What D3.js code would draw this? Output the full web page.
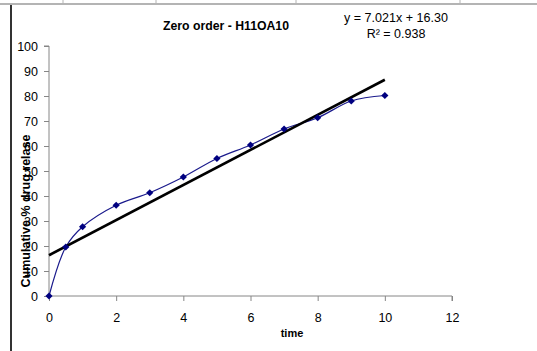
<!DOCTYPE html>
<html>
<head>
<meta charset="utf-8">
<script src="https://cdn.jsdelivr.net/npm/d3@7"></script>
<style>
  html, body { margin: 0; padding: 0; background: #fff; }
  svg { display: block; font-family: "Liberation Sans", Arial, sans-serif; }
</style>
</head>
<body>
<div id="chart"></div>
<script>
// Zero order release plot — time vs cumulative % drug release

const timePoints = [0, 0.5, 1, 2, 3, 4, 5, 6, 7, 8, 9, 10];
const releaseValues = [0, 19.6, 27.7, 36.3, 41.3, 47.6, 55, 60.4, 66.8, 71.3, 78, 80.2];
const xTicks = [0, 2, 4, 6, 8, 10, 12];
const yTicks = [0, 10, 20, 30, 40, 50, 60, 70, 80, 90, 100];
const trendSlope = 7.021;
const trendIntercept = 16.30;
const trendRange = [0, 10];
const sheetColumns = [63, 156, 296, 460]; // spreadsheet column separators

const width = 537, height = 351;
const svg = d3.select("#chart").append("svg")
  .attr("width", width)
  .attr("height", height);

// ── spreadsheet frame behind the chart ──
svg.append("line")
  .attr("x1", 0).attr("x2", width).attr("y1", 4).attr("y2", 4)
  .attr("stroke", "#b4b4b4").attr("stroke-width", 2);
svg.selectAll("line.col")
  .data(sheetColumns)
  .join("line")
  .attr("class", "col")
  .attr("x1", d => d).attr("x2", d => d)
  .attr("y1", 0).attr("y2", 3)
  .attr("stroke", "#b4b4b4").attr("stroke-width", 1);
svg.append("line")
  .attr("x1", 11).attr("x2", 11).attr("y1", 5).attr("y2", height)
  .attr("stroke", "#333").attr("stroke-width", 2);

// ── scales ──
const x = d3.scaleLinear().domain([0, 12]).range([49, 452]);
const y = d3.scaleLinear().domain([0, 100]).range([296, 46]);

const axisColor = "#868686";

const yAxis = svg.append("g")
  .attr("transform", `translate(${x(0)},0)`)
  .call(d3.axisLeft(y).tickValues(yTicks).tickSize(5).tickPadding(6));
const xAxis = svg.append("g")
  .attr("transform", `translate(0,${y(0)})`)
  .call(d3.axisBottom(x).tickValues(xTicks).tickSize(5).tickPadding(12));

[xAxis, yAxis].forEach(ax => {
  ax.select(".domain").attr("stroke", axisColor);
  ax.selectAll(".tick line").attr("stroke", axisColor);
  ax.selectAll(".tick text")
    .attr("fill", "#000")
    .style("font-size", "12.5px")
    .style("font-family", "'Liberation Sans', Arial, sans-serif");
});
// Excel draws the x axis only up to 0 on the left; y ticks outward
xAxis.select(".domain").attr("d", `M${x(0)},0H${x(12)}V5`);
yAxis.select(".domain").attr("d", `M-5,${y(100)}H0V${y(0)}`);

// ── data series (smoothed) ──
const pts = timePoints.map((t, i) => [t, releaseValues[i]]);

svg.append("path")
  .datum(pts)
  .attr("fill", "none")
  .attr("stroke", "#1a1a8c")
  .attr("stroke-width", 1.2)
  .attr("d", d3.line()
    .x(d => x(d[0]))
    .y(d => y(d[1]))
    .curve(d3.curveCatmullRom.alpha(0.5)));

// ── linear trendline ──
svg.append("line")
  .attr("x1", x(trendRange[0])).attr("y1", y(trendSlope * trendRange[0] + trendIntercept))
  .attr("x2", x(trendRange[1])).attr("y2", y(trendSlope * trendRange[1] + trendIntercept))
  .attr("stroke", "#000")
  .attr("stroke-width", 2.6);

// diamond markers on top (rotated squares, like Excel)
svg.append("g")
  .selectAll("path")
  .data(pts)
  .join("path")
  .attr("transform", d => `translate(${x(d[0])},${y(d[1])}) rotate(45)`)
  .attr("d", d3.symbol(d3.symbolSquare, 26))
  .attr("fill", "#000080");

// ── texts ──
svg.append("text")
  .attr("x", 226).attr("y", 30)
  .attr("text-anchor", "middle")
  .style("font-size", "12px").style("font-weight", "bold")
  .attr("textLength", 126).attr("lengthAdjust", "spacingAndGlyphs")
  .text("Zero order - H11OA10");

svg.append("text")
  .attr("x", 396).attr("y", 22)
  .attr("text-anchor", "middle")
  .style("font-size", "12.5px")
  .attr("textLength", 104).attr("lengthAdjust", "spacingAndGlyphs")
  .text("y = 7.021x + 16.30");
svg.append("text")
  .attr("x", 396).attr("y", 38)
  .attr("text-anchor", "middle")
  .style("font-size", "12.5px")
  .text("R² = 0.938");

svg.append("text")
  .attr("x", 292).attr("y", 337)
  .attr("text-anchor", "middle")
  .style("font-size", "11px").style("font-weight", "bold")
  .text("time");

svg.append("text")
  .attr("transform", "translate(30,211) rotate(-90)")
  .attr("text-anchor", "middle")
  .style("font-size", "12.5px").style("font-weight", "bold")
  .text("Cumulative % drug relase");
</script>
</body>
</html>
